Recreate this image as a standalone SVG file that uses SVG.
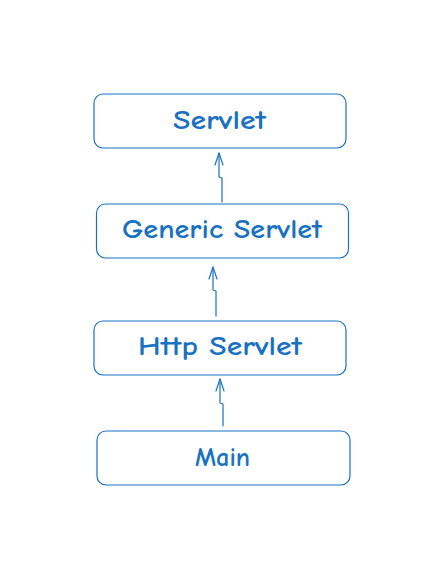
<svg xmlns="http://www.w3.org/2000/svg" width="448" height="567" viewBox="0 0 448 567">
<defs>
<style>
.box{fill:#ffffff;stroke:#1971c2;stroke-width:1.2}
.lbl{fill:#1971c2;font-family:"Comic Neue","Liberation Sans","DejaVu Sans",sans-serif;font-size:27px;font-weight:bold;text-anchor:middle}
.edge{fill:none;stroke:#1971c2;stroke-width:1.2;stroke-linecap:round;stroke-linejoin:round}
</style>
</defs>
<rect width="448" height="567" fill="#ffffff"/>
<g id="node-servlet">
<rect class="box" x="94" y="94" width="252" height="54" rx="9"/>
<text class="lbl" x="219.5" y="129" textLength="93" lengthAdjust="spacingAndGlyphs">Servlet</text>
</g>
<g id="node-generic">
<rect class="box" x="96.5" y="204" width="252" height="54" rx="9"/>
<text class="lbl" x="222" y="238" textLength="200" lengthAdjust="spacingAndGlyphs">Generic Servlet</text>
</g>
<g id="node-http">
<rect class="box" x="94" y="321" width="252" height="54" rx="9"/>
<text class="lbl" x="220" y="355" textLength="164" lengthAdjust="spacingAndGlyphs">Http Servlet</text>
</g>
<g id="node-main">
<rect class="box" x="97" y="431" width="253" height="54" rx="9"/>
<text class="lbl" x="222.5" y="466" textLength="55" lengthAdjust="spacingAndGlyphs">Main</text>
</g>
<g id="connectors">
<path class="edge" d="M222 202 L222 178 L219 177 L219 153"/>
<path class="edge" d="M215 165 L219 153 L223 165"/>
<path class="edge" d="M216 316 L216 291 L213 290 L213 267"/>
<path class="edge" d="M209 279 L213 267 L217 279"/>
<path class="edge" d="M223 426 L223 404 L220 403 L220 379"/>
<path class="edge" d="M216 391 L220 379 L224 391"/>
</g>
</svg>
